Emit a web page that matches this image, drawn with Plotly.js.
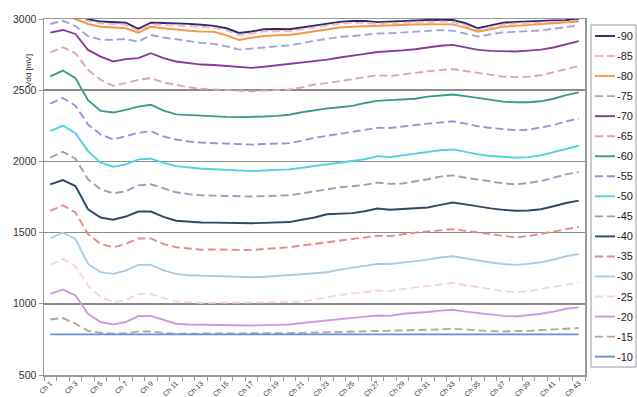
<!DOCTYPE html>
<html><head><meta charset="utf-8">
<script src="https://cdn.plot.ly/plotly-3.0.1.min.js"></script>
<style>html,body{margin:0;padding:0;background:#fff}#chart{width:637px;height:397px}</style>
</head><body><div id="chart"></div>
<script>
const channels = [1,2,3,4,5,6,7,8,9,10,11,12,13,14,15,16,17,18,19,20,21,22,23,24,25,26,27,28,29,30,31,32,33,34,35,36,37,38,39,40,41,42,43];
const tickPositions = [1,3,5,7,9,11,13,15,17,19,21,23,25,27,29,31,33,35,37,39,41,43];
const tickLabels = ['Ch 1','Ch 3','Ch 5','Ch 7','Ch 9','Ch 11','Ch 13','Ch 15','Ch 17','Ch 19','Ch 21','Ch 23','Ch 25','Ch 27','Ch 29','Ch 31','Ch 33','Ch 35','Ch 37','Ch 39','Ch 41','Ch 43'];
const yTicks = [500,1000,1500,2000,2500,3000];
const seriesNames = ['-90','-85','-80','-75','-70','-65','-60','-55','-50','-45','-40','-35','-30','-25','-20','-15','-10'];

const v90 = [3040,3060,3030,2998,2982,2978,2974,2930,2974,2972,2970,2966,2960,2952,2935,2902,2912,2928,2930,2928,2940,2955,2965,2980,2986,2986,2978,2982,2988,2990,2993,2994,2993,2970,2935,2955,2974,2980,2985,2988,2990,2993,3000];
const v85 = [3025,3045,3015,2985,2970,2965,2960,2918,2962,2960,2957,2952,2946,2938,2920,2888,2898,2914,2916,2915,2928,2942,2953,2967,2973,2973,2966,2970,2976,2978,2981,2982,2980,2957,2923,2943,2962,2968,2973,2976,2978,2982,2990];
const v80 = [3010,3030,3000,2965,2946,2940,2935,2904,2946,2935,2925,2918,2911,2910,2885,2853,2868,2881,2886,2888,2900,2915,2925,2940,2946,2950,2951,2953,2958,2961,2963,2965,2962,2940,2911,2928,2946,2952,2958,2965,2970,2976,2982];
const v75 = [2965,2988,2950,2880,2855,2853,2860,2841,2888,2870,2858,2845,2832,2825,2808,2785,2790,2800,2808,2815,2830,2848,2860,2875,2880,2890,2898,2900,2906,2912,2918,2922,2918,2900,2877,2893,2907,2910,2914,2920,2932,2945,2955];
const v70 = [2904,2923,2895,2783,2736,2702,2718,2725,2760,2725,2702,2690,2680,2677,2670,2660,2657,2665,2675,2680,2690,2702,2715,2730,2740,2755,2768,2772,2780,2788,2800,2812,2818,2800,2783,2776,2772,2772,2778,2785,2800,2825,2845];
const v65 = [2765,2802,2760,2643,2573,2531,2550,2573,2585,2555,2538,2520,2510,2505,2500,2495,2492,2497,2502,2505,2520,2540,2550,2565,2575,2590,2605,2600,2612,2620,2632,2642,2648,2635,2620,2605,2595,2592,2595,2605,2625,2650,2670];
const v60 = [2597,2638,2585,2430,2355,2343,2362,2385,2398,2357,2330,2325,2320,2317,2313,2311,2312,2315,2320,2328,2345,2360,2372,2380,2390,2410,2425,2430,2433,2440,2455,2465,2470,2458,2445,2432,2420,2415,2415,2422,2440,2465,2485];
const v55 = [2406,2445,2392,2259,2189,2154,2177,2201,2212,2175,2154,2140,2132,2128,2122,2119,2118,2122,2126,2128,2145,2166,2180,2195,2205,2220,2236,2235,2247,2255,2265,2275,2282,2265,2247,2235,2225,2219,2222,2236,2255,2282,2300];
const v50 = [2212,2252,2198,2072,1991,1963,1979,2014,2019,1990,1967,1955,1948,1945,1940,1935,1932,1936,1940,1944,1955,1967,1980,1995,2002,2015,2037,2030,2042,2055,2068,2078,2084,2065,2049,2038,2030,2026,2030,2042,2065,2090,2110];
const v45 = [2026,2068,2019,1874,1804,1776,1790,1832,1839,1810,1783,1770,1762,1760,1757,1755,1753,1756,1760,1762,1775,1790,1804,1818,1826,1835,1851,1842,1845,1858,1875,1893,1902,1885,1874,1860,1845,1839,1848,1862,1885,1909,1925];
const v40 = [1839,1869,1827,1664,1606,1590,1613,1648,1648,1610,1583,1575,1571,1570,1568,1566,1566,1568,1572,1574,1590,1606,1629,1635,1637,1650,1669,1660,1665,1672,1676,1695,1711,1698,1683,1670,1660,1653,1655,1664,1685,1708,1725];
const v35 = [1653,1692,1641,1490,1420,1397,1420,1459,1459,1420,1397,1388,1380,1382,1380,1377,1377,1385,1392,1397,1410,1420,1431,1445,1455,1466,1478,1475,1490,1500,1508,1518,1524,1512,1501,1488,1475,1466,1475,1490,1505,1524,1540];
const v30 = [1459,1501,1455,1280,1222,1210,1233,1273,1273,1235,1210,1200,1198,1195,1190,1187,1186,1190,1195,1198,1208,1215,1222,1240,1255,1268,1280,1280,1292,1300,1310,1325,1334,1318,1303,1290,1280,1273,1280,1292,1310,1334,1350];
const v25 = [1273,1315,1264,1128,1047,1012,1024,1070,1070,1040,1017,1010,1007,1008,1010,1010,1010,1010,1010,1012,1015,1030,1047,1062,1072,1082,1093,1090,1105,1115,1125,1138,1147,1130,1117,1100,1090,1082,1090,1105,1120,1140,1150];
const v20 = [1070,1100,1059,930,872,855,872,914,914,885,860,855,853,850,849,848,848,850,853,855,865,875,883,892,902,910,918,915,930,935,942,952,958,945,934,922,915,911,918,930,945,965,975];
const v15 = [890,900,860,810,797,790,792,806,806,795,790,790,790,791,792,792,791,792,793,794,796,798,799,800,803,806,808,808,810,812,816,820,825,818,812,808,806,806,810,815,820,826,830];
const v10 = [785,785,786,784,785,786,784,785,787,785,784,786,785,784,785,786,785,784,786,785,786,785,784,786,785,787,785,786,785,784,786,785,786,785,784,785,786,785,784,786,785,786,785];

const seriesValues = [v90,v85,v80,v75,v70,v65,v60,v55,v50,v45,v40,v35,v30,v25,v20,v15,v10];
const seriesColors = ['#2c2870','#f2b6b8','#f5964a','#a2a2dc','#8a3a9a','#d8aaa2','#3a9a90','#9c90e0','#4fd2e2','#a29cba','#2f4868','#e88a8a','#a8cce8','#f4d6de','#c89ae8','#b8a898','#6a8ee0'];
const seriesDash = ['solid','8px,4px','solid','8px,4px','solid','8px,4px','solid','8px,4px','solid','8px,4px','solid','8px,4px','solid','8px,4px','solid','8px,4px','solid'];

const L = 44, T = 19, W = 541, H = 356;
const px = p => (p - L) / W;
const py = p => (T + H - p) / H;

const traces = seriesNames.map((n, i) => ({
  type: 'scatter', mode: 'lines', name: n, x: channels, y: seriesValues[i],
  line: {color: seriesColors[i], width: 1.9, dash: seriesDash[i]},
  showlegend: false, hoverinfo: 'skip'
}));

const shapes = [{type: 'rect', xref: 'paper', yref: 'paper', x0: px(591), x1: px(636), y0: py(367), y1: py(25),
  line: {color: '#999', width: 1}, fillcolor: 'rgba(255,255,255,0)'}];
const annotations = [{xref: 'paper', yref: 'paper', x: px(22), y: py(52), text: 'Vdd [mV]', showarrow: false,
  textangle: -90, font: {size: 8, color: '#222', family: 'Liberation Sans, Arial, sans-serif'}}];
seriesNames.forEach((n, k) => {
  const yy = 36 + 20.04 * k;
  shapes.push({type: 'line', xref: 'paper', yref: 'paper', x0: px(595), x1: px(615), y0: py(yy), y1: py(yy),
    line: {color: seriesColors[k], width: 1.9, dash: seriesDash[k]}});
  annotations.push({xref: 'paper', yref: 'paper', x: px(615), y: py(yy), xanchor: 'left', yanchor: 'middle',
    text: n, showarrow: false, font: {size: 11, color: '#222', family: 'Liberation Sans, Arial, sans-serif'}});
});

const layout = {
  width: 637, height: 397,
  margin: {l: L, r: 637 - L - W, t: T, b: 397 - T - H, autoexpand: false},
  paper_bgcolor: '#fff', plot_bgcolor: '#fff',
  font: {family: 'Liberation Sans, Arial, sans-serif', color: '#333'},
  xaxis: {range: [0.5, 43.5], tickmode: 'array', tickvals: tickPositions, ticktext: tickLabels,
    tickangle: -45, tickfont: {size: 7, color: '#333'}, ticks: '', showgrid: false, zeroline: false,
    showline: true, linecolor: '#999', linewidth: 1.5, mirror: true,
    minor: {tick0: 0.5, dtick: 1, ticks: 'outside', ticklen: 4, tickcolor: '#999', showgrid: false}},
  yaxis: {range: [500, 3000], tickmode: 'array', tickvals: yTicks, ticks: 'outside', ticklen: 4, tickcolor: '#999',
    tickfont: {size: 10.5, color: '#333'}, showgrid: true, gridcolor: '#8c8c8c', gridwidth: 1.5, zeroline: false,
    showline: true, linecolor: '#999', linewidth: 1.5, mirror: true},
  shapes: shapes, annotations: annotations, showlegend: false
};
Plotly.newPlot('chart', traces, layout, {staticPlot: true, displayModeBar: false});
</script></body></html>
